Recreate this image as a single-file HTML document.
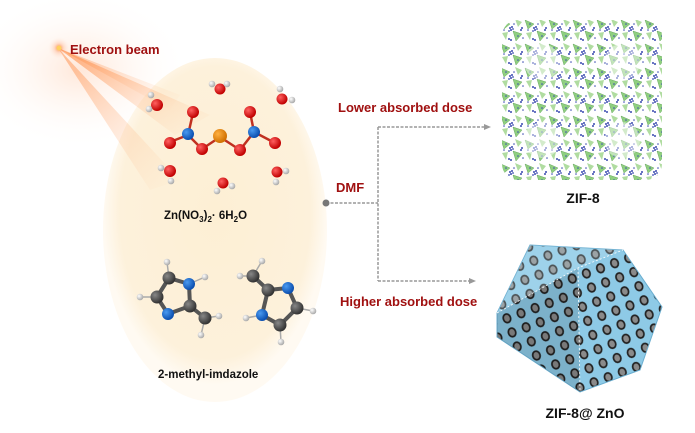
<!DOCTYPE html>
<html><head><meta charset="utf-8"><style>
html,body{margin:0;padding:0;background:#fff;}
svg{display:block;}
text{font-family:"Liberation Sans",sans-serif;font-weight:bold;}
</style></head><body>
<svg width="695" height="433" viewBox="0 0 695 433" xmlns="http://www.w3.org/2000/svg">
<defs>
<radialGradient id="ell" cx="50%" cy="45%" r="50%">
<stop offset="0" stop-color="#fdefd4"/><stop offset="0.85" stop-color="#fdf1db"/><stop offset="1" stop-color="#fffaf2"/>
</radialGradient>
<radialGradient id="glow" cx="50%" cy="50%" r="50%">
<stop offset="0" stop-color="#ff7a2a" stop-opacity="0.9"/><stop offset="0.4" stop-color="#ffa070" stop-opacity="0.3"/><stop offset="1" stop-color="#fff" stop-opacity="0"/>
</radialGradient>
<radialGradient id="haze" cx="50%" cy="50%" r="50%">
<stop offset="0" stop-color="#ffd8c0" stop-opacity="0.6"/><stop offset="1" stop-color="#fff" stop-opacity="0"/>
</radialGradient>
<linearGradient id="beam" x1="0" y1="0" x2="1" y2="1">
<stop offset="0" stop-color="#ff7a2a" stop-opacity="0.6"/><stop offset="1" stop-color="#ffc090" stop-opacity="0"/>
</linearGradient>
<radialGradient id="gO" cx="35%" cy="35%" r="65%"><stop offset="0" stop-color="#ff6060"/><stop offset="1" stop-color="#c00000"/></radialGradient>
<radialGradient id="gH" cx="35%" cy="35%" r="65%"><stop offset="0" stop-color="#fff"/><stop offset="1" stop-color="#aaa"/></radialGradient>
<radialGradient id="gN" cx="35%" cy="35%" r="65%"><stop offset="0" stop-color="#4a9af0"/><stop offset="1" stop-color="#0b4fb0"/></radialGradient>
<radialGradient id="gZ" cx="35%" cy="35%" r="65%"><stop offset="0" stop-color="#ffb040"/><stop offset="1" stop-color="#d07000"/></radialGradient>
<radialGradient id="gC" cx="35%" cy="35%" r="65%"><stop offset="0" stop-color="#888"/><stop offset="1" stop-color="#333"/></radialGradient>
<pattern id="zif" width="24" height="24" patternUnits="userSpaceOnUse" x="500" y="18">
<polygon points="1,2 10,6 4,11" fill="#8fcf80" stroke="#6aa860" stroke-width="0.5"/>
<polygon points="13,13 22,16 16,23" fill="#8fcf80" stroke="#6aa860" stroke-width="0.5"/>
<polygon points="15,1 22,4 18,9" fill="#b0dca0"/>
<polygon points="2,15 8,14 6,22" fill="#b0dca0"/>
<g fill="#3a4ab0"><circle cx="10" cy="10" r="1"/><circle cx="12" cy="9" r="1"/><circle cx="11" cy="12" r="1"/><circle cx="13" cy="11" r="0.9"/><circle cx="9" cy="13" r="0.9"/><circle cx="22" cy="10" r="1"/><circle cx="21" cy="12" r="1"/><circle cx="9" cy="21" r="1"/><circle cx="11" cy="22" r="1"/><circle cx="4" cy="12" r="0.8"/><circle cx="14" cy="6" r="0.8"/><circle cx="23" cy="20" r="0.8"/><circle cx="6" cy="6" r="0.8"/><circle cx="18" cy="18" r="0.8"/></g>
</pattern>
<pattern id="pores" width="15" height="15" patternUnits="userSpaceOnUse" patternTransform="rotate(-20)">
<rect width="15" height="15" fill="#8ecae6"/>
<ellipse cx="7.5" cy="7.5" rx="4.5" ry="5.3" fill="#222"/>
<ellipse cx="7.5" cy="7.5" rx="2.8" ry="3.5" fill="#8a8a8a"/>
</pattern>
</defs>
<rect width="695" height="433" fill="#fff"/>
<ellipse cx="80" cy="70" rx="110" ry="80" fill="url(#haze)"/>
<ellipse cx="215" cy="230" rx="112" ry="172" fill="url(#ell)"/>
<polygon points="58,48 210,115 175,135" fill="url(#beam)"/>
<polygon points="58,48 180,180 150,190" fill="url(#beam)" opacity="0.8"/>
<polygon points="58,48 180,95 170,110" fill="url(#beam)" opacity="0.7"/>
<circle cx="59" cy="48" r="12" fill="url(#glow)"/>
<circle cx="59" cy="48" r="2.5" fill="#ffd060"/>
<text x="70" y="54" font-size="13" fill="#a01010">Electron beam</text>
<!-- Zn nitrate -->
<g stroke="#c03020" stroke-width="2.5">
<line x1="170" y1="142" x2="188" y2="135"/><line x1="188" y1="135" x2="193" y2="113"/><line x1="188" y1="135" x2="202" y2="149"/><line x1="202" y1="149" x2="220" y2="137"/><line x1="220" y1="137" x2="240" y2="150"/><line x1="240" y1="150" x2="254" y2="132"/><line x1="254" y1="132" x2="250" y2="112"/><line x1="254" y1="132" x2="275" y2="143"/>
</g>
<g fill="url(#gO)"><circle cx="193" cy="112" r="6"/><circle cx="170" cy="143" r="6"/><circle cx="202" cy="149" r="6"/><circle cx="240" cy="150" r="6"/><circle cx="250" cy="112" r="6"/><circle cx="275" cy="143" r="6"/>
<circle cx="157" cy="105" r="6"/><circle cx="220" cy="89" r="5.5"/><circle cx="282" cy="99" r="5.5"/><circle cx="170" cy="171" r="6"/><circle cx="223" cy="183" r="5.5"/><circle cx="277" cy="172" r="5.5"/></g>
<g fill="url(#gN)"><circle cx="188" cy="134" r="6"/><circle cx="254" cy="132" r="6"/></g>
<circle cx="220" cy="136" r="7" fill="url(#gZ)"/>
<g fill="url(#gH)"><circle cx="149" cy="109" r="3.3"/><circle cx="151" cy="95" r="3.3"/><circle cx="212" cy="84" r="3.3"/><circle cx="227" cy="84" r="3.3"/><circle cx="280" cy="89" r="3.3"/><circle cx="292" cy="100" r="3.3"/><circle cx="161" cy="168" r="3.3"/><circle cx="171" cy="181" r="3.3"/><circle cx="217" cy="191" r="3.3"/><circle cx="232" cy="186" r="3.3"/><circle cx="286" cy="171" r="3.3"/><circle cx="276" cy="182" r="3.3"/></g>
<text x="164" y="219" font-size="11.5" fill="#111">Zn(NO<tspan font-size="8" dy="3">3</tspan><tspan dy="-3">)</tspan><tspan font-size="8" dy="3">2</tspan><tspan dy="-3">· 6H</tspan><tspan font-size="8" dy="3">2</tspan><tspan dy="-3">O</tspan></text>
<!-- imidazoles -->
<g stroke="#555" stroke-width="4" fill="none">
<polyline points="169,278 189,284 190,306 168,314 157,297 169,278"/>
<line x1="190" y1="306" x2="205" y2="318"/>
<polyline points="268,290 288,288 297,308 280,325 262,315 268,290"/>
<line x1="268" y1="290" x2="253" y2="276"/>
</g>
<g stroke="#aaa" stroke-width="1.5">
<line x1="169" y1="278" x2="167" y2="262"/><line x1="189" y1="284" x2="205" y2="277"/><line x1="157" y1="297" x2="140" y2="297"/><line x1="205" y1="318" x2="219" y2="316"/><line x1="205" y1="318" x2="201" y2="335"/>
<line x1="253" y1="276" x2="262" y2="261"/><line x1="253" y1="276" x2="240" y2="276"/><line x1="262" y1="315" x2="246" y2="318"/><line x1="297" y1="308" x2="313" y2="311"/><line x1="280" y1="325" x2="281" y2="342"/>
</g>
<g fill="url(#gC)"><circle cx="169" cy="278" r="6.5"/><circle cx="157" cy="297" r="6.5"/><circle cx="190" cy="306" r="6.5"/><circle cx="205" cy="318" r="6.5"/>
<circle cx="253" cy="276" r="6.5"/><circle cx="268" cy="290" r="6.5"/><circle cx="297" cy="308" r="6.5"/><circle cx="280" cy="325" r="6.5"/></g>
<g fill="url(#gN)"><circle cx="189" cy="284" r="6"/><circle cx="168" cy="314" r="6"/><circle cx="288" cy="288" r="6"/><circle cx="262" cy="315" r="6"/></g>
<g fill="url(#gH)"><circle cx="167" cy="262" r="3.3"/><circle cx="205" cy="277" r="3.3"/><circle cx="140" cy="297" r="3.3"/><circle cx="219" cy="316" r="3.3"/><circle cx="201" cy="335" r="3.3"/>
<circle cx="262" cy="261" r="3.3"/><circle cx="240" cy="276" r="3.3"/><circle cx="246" cy="318" r="3.3"/><circle cx="313" cy="311" r="3.3"/><circle cx="281" cy="342" r="3.3"/></g>
<text x="158" y="378" font-size="11.5" fill="#111">2-methyl-imdazole</text>
<!-- connectors -->
<g stroke="#999" stroke-width="1.5" stroke-dasharray="3,1.5" fill="none">
<line x1="326" y1="203" x2="378" y2="203"/>
<line x1="378" y1="127" x2="378" y2="281"/>
<line x1="378" y1="127" x2="486" y2="127"/>
<line x1="378" y1="281" x2="470" y2="281"/>
</g>
<circle cx="326" cy="203" r="3.5" fill="#777"/>
<polygon points="491,127 484,124 484,130" fill="#999"/>
<polygon points="476,281 469,278 469,284" fill="#999"/>
<text x="338" y="112" font-size="13" fill="#a01010">Lower absorbed dose</text>
<text x="336" y="192" font-size="13" fill="#a01010">DMF</text>
<text x="340" y="306" font-size="13" fill="#a01010">Higher absorbed dose</text>
<!-- ZIF-8 -->
<rect x="502" y="20" width="160" height="160" rx="16" fill="url(#zif)"/>
<g fill="#fff" opacity="0.45"><circle cx="542" cy="62" r="18"/><circle cx="622" cy="62" r="18"/><circle cx="542" cy="140" r="18"/><circle cx="622" cy="140" r="18"/></g>
<text x="583" y="203" font-size="14" fill="#111" text-anchor="middle">ZIF-8</text>
<!-- ZIF-8@ZnO polyhedron -->
<polygon points="530,245 623,250 662,307 640,370 580,392 497,337 497,313" fill="url(#pores)" stroke="#6aaed0"/>
<polygon points="530,245 623,250 578,268 497,313" fill="#d0ecf8" opacity="0.25"/>
<polygon points="497,337 580,392 578,268 497,313" fill="#000" opacity="0.12"/>
<polyline points="497,313 578,268 623,250" fill="none" stroke="#fff" stroke-width="0.8" stroke-dasharray="2,2"/>
<line x1="578" y1="268" x2="580" y2="392" stroke="#fff" stroke-width="0.8" stroke-dasharray="2,2"/>
<text x="585" y="418" font-size="14" fill="#111" text-anchor="middle">ZIF-8@ ZnO</text>
</svg>
</body></html>
